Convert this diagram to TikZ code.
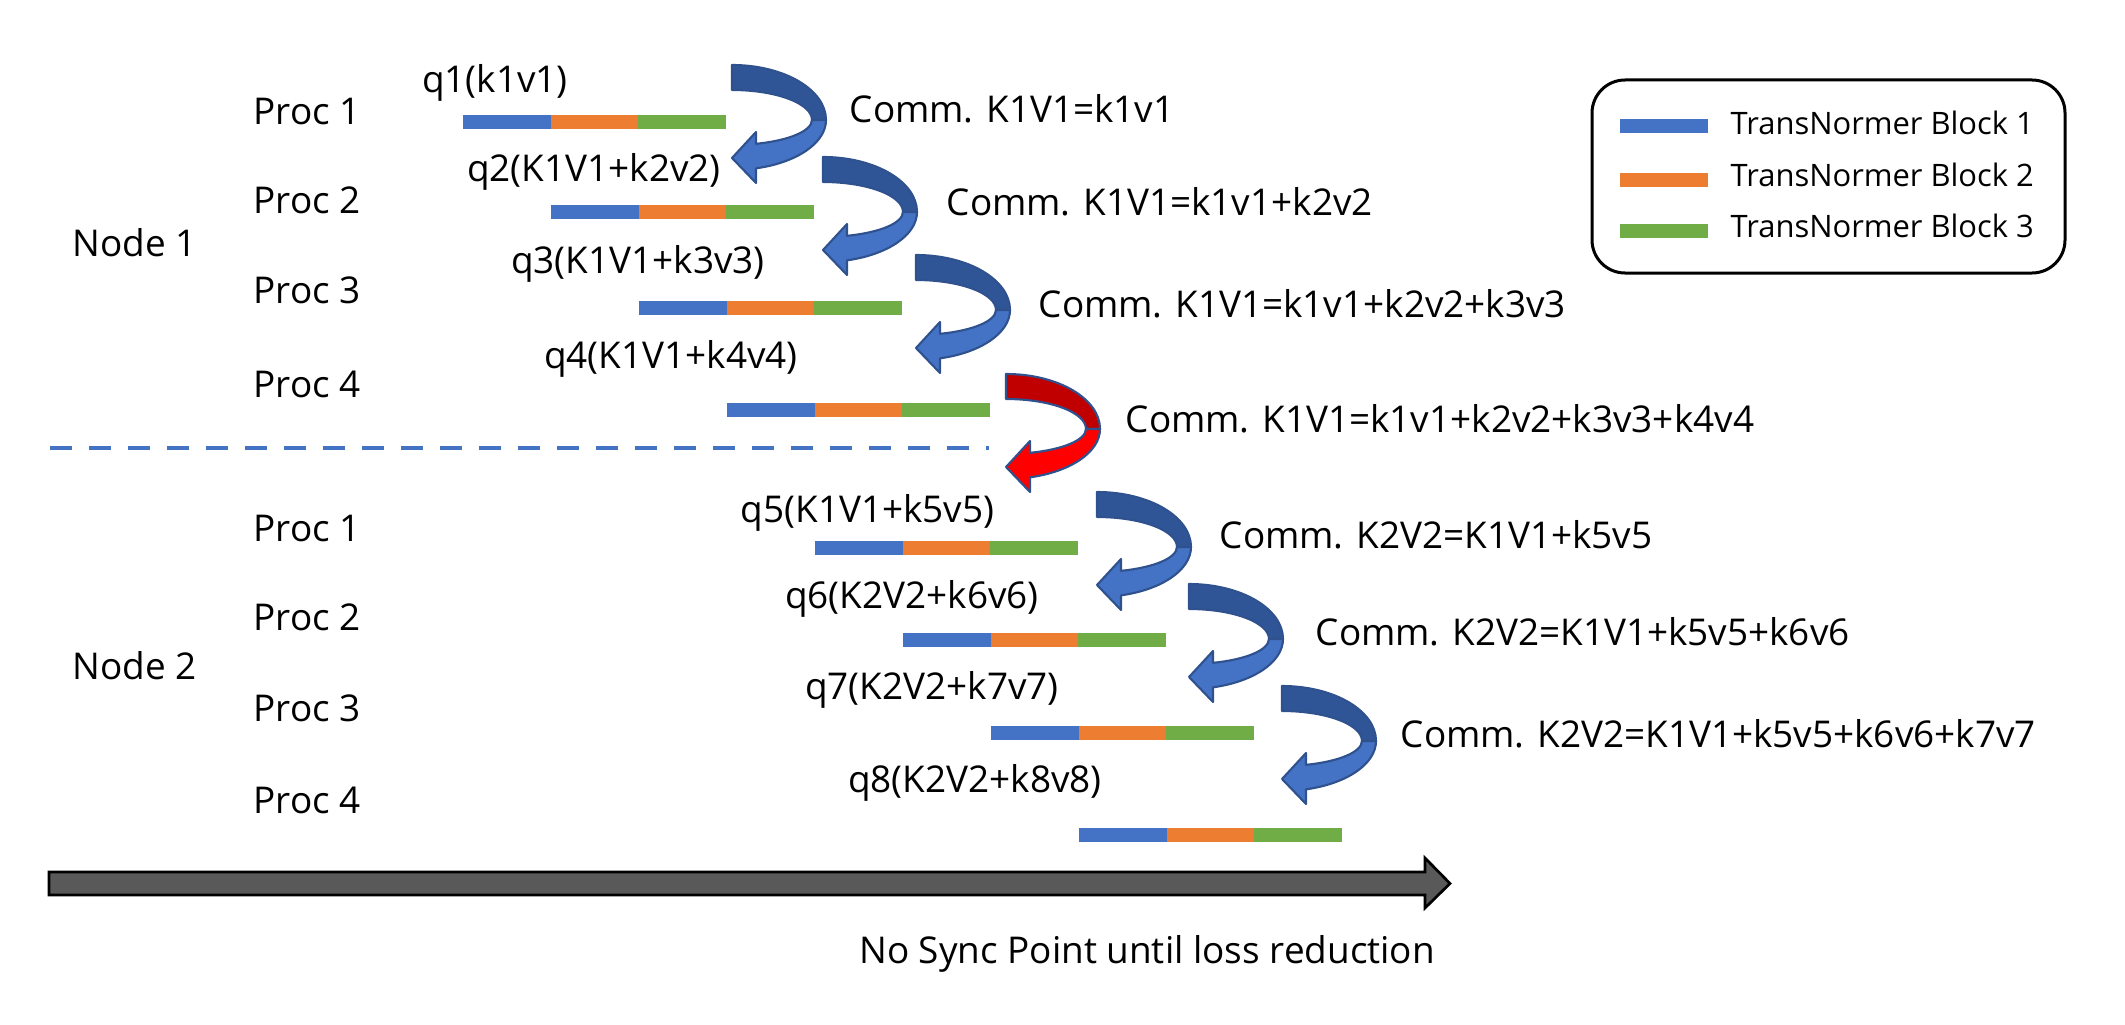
\documentclass[tikz,border=0pt]{standalone}
\usepackage{fontspec}
\setmainfont{Open Sans}
\usepackage{tikz}
\usetikzlibrary{arrows}

\definecolor{blockone}{HTML}{4472C4}
\definecolor{blocktwo}{HTML}{ED7D31}
\definecolor{blockthree}{HTML}{70AD47}
\definecolor{backblue}{HTML}{2F5597}
\definecolor{edgeblue}{HTML}{2F528F}
\definecolor{backred}{HTML}{C00000}
\definecolor{frontred}{HTML}{FF0000}
\definecolor{timegray}{HTML}{595959}

\tikzset{
  lbl/.style={inner sep=0pt, font=\fontsize{10.5}{12}\selectfont},
  legendlbl/.style={inner sep=0pt, anchor=base west, font=\fontsize{8.8}{10}\selectfont},
  arrowline/.style={draw=edgeblue, line width=0.6pt, line join=round},
}

% one row of three TransNormer blocks, #1 = left x, #2 = middle y
\newcommand{\blockbar}[2]{%
  \fill[blockone] (#1,#2+0.07) rectangle ++(0.877,-0.14);
  \fill[blocktwo] (#1+0.877,#2+0.07) rectangle ++(0.877,-0.14);
  \fill[blockthree] (#1+1.754,#2+0.07) rectangle ++(0.877,-0.14);
}

% curved comm arrow, #1 = x of tail, #2 = y of tail top, #3 back colour, #4 front colour
\newcommand{\commarrow}[4]{%
  \begin{scope}[shift={(#1,#2)}]
    \filldraw[arrowline, fill=#3] (0,0) arc[start angle=90, end angle=0, x radius=0.94, y radius=0.55]
      -- (0.80,-0.55) arc[start angle=0, end angle=90, x radius=0.80, y radius=0.30] -- cycle;
    \filldraw[arrowline, fill=#4] (0.94,-0.55) arc[start angle=0, end angle=-75.2, x radius=0.94, y radius=0.50]
      -- (0.24,-1.18) -- (0,-0.93) -- (0.24,-0.67) -- (0.24,-0.788)
      arc[start angle=-72.5, end angle=0, x radius=0.80, y radius=0.25] -- cycle;
  \end{scope}
}

\begin{document}
\begin{tikzpicture}
\useasboundingbox (0,0) rectangle (21.25,-10.25);

% nodes and processes
\node [lbl, anchor=base west] (N1) at (0.72,-2.57) {Node 1};
\node [lbl, anchor=base west] (N2) at (0.72,-6.79) {Node 2};

\node [lbl, anchor=base west] (P11) at (2.53,-1.25) {Proc 1};
\node [lbl, anchor=base west] (P12) at (2.53,-2.13) {Proc 2};
\node [lbl, anchor=base west] (P13) at (2.53,-3.03) {Proc 3};
\node [lbl, anchor=base west] (P14) at (2.53,-3.97) {Proc 4};
\node [lbl, anchor=base west] (P21) at (2.53,-5.41) {Proc 1};
\node [lbl, anchor=base west] (P22) at (2.53,-6.30) {Proc 2};
\node [lbl, anchor=base west] (P23) at (2.53,-7.21) {Proc 3};
\node [lbl, anchor=base west] (P24) at (2.53,-8.13) {Proc 4};

% blocks
\blockbar{4.63}{-1.22}
\blockbar{5.51}{-2.12}
\blockbar{6.39}{-3.075}
\blockbar{7.27}{-4.10}
\blockbar{8.15}{-5.475}
\blockbar{9.03}{-6.40}
\blockbar{9.91}{-7.33}
\blockbar{10.79}{-8.35}

% queries
\node [lbl, anchor=base] (Q1) at (4.95,-0.93) {q1(k1v1)};
\node [lbl, anchor=base] (Q2) at (5.94,-1.82) {q2(K1V1+k2v2)};
\node [lbl, anchor=base] (Q3) at (6.38,-2.73) {q3(K1V1+k3v3)};
\node [lbl, anchor=base] (Q4) at (6.71,-3.68) {q4(K1V1+k4v4)};
\node [lbl, anchor=base] (Q5) at (8.675,-5.22) {q5(K1V1+k5v5)};
\node [lbl, anchor=base] (Q6) at (9.12,-6.08) {q6(K2V2+k6v6)};
\node [lbl, anchor=base] (Q7) at (9.32,-6.99) {q7(K2V2+k7v7)};
\node [lbl, anchor=base] (Q8) at (9.75,-7.92) {q8(K2V2+k8v8)};

% node border
\draw [blockone, line width=0.045cm, dash pattern=on 0.22cm off 0.17cm] (0.50,-4.48) -- (9.89,-4.48);

% communication
\commarrow{7.32}{-0.65}{backblue}{blockone}
\commarrow{8.23}{-1.57}{backblue}{blockone}
\commarrow{9.16}{-2.55}{backblue}{blockone}
\commarrow{10.06}{-3.74}{backred}{frontred}
\commarrow{10.97}{-4.92}{backblue}{blockone}
\commarrow{11.89}{-5.84}{backblue}{blockone}
\commarrow{12.82}{-6.86}{backblue}{blockone}

\node [lbl, anchor=base west] (C1) at (8.49,-1.23) {Comm. K1V1=k1v1};
\node [lbl, anchor=base west] (C2) at (9.46,-2.16) {Comm. K1V1=k1v1+k2v2};
\node [lbl, anchor=base west] (C3) at (10.38,-3.17) {Comm. K1V1=k1v1+k2v2+k3v3};
\node [lbl, anchor=base west] (C4) at (11.25,-4.32) {Comm. K1V1=k1v1+k2v2+k3v3+k4v4};
\node [lbl, anchor=base west] (C5) at (12.19,-5.48) {Comm. K2V2=K1V1+k5v5};
\node [lbl, anchor=base west] (C6) at (13.15,-6.45) {Comm. K2V2=K1V1+k5v5+k6v6};
\node [lbl, anchor=base west] (C7) at (14.00,-7.47) {Comm. K2V2=K1V1+k5v5+k6v6+k7v7};

% legend
\draw [black, line width=0.03cm, rounded corners=0.33cm] (15.92,-0.80) rectangle (20.65,-2.73);
\fill [blockone] (16.20,-1.19) rectangle (17.08,-1.33);
\fill [blocktwo] (16.20,-1.73) rectangle (17.08,-1.87);
\fill [blockthree] (16.20,-2.24) rectangle (17.08,-2.38);
\node [legendlbl] (L1) at (17.30,-1.35) {TransNormer Block 1};
\node [legendlbl] (L2) at (17.30,-1.87) {TransNormer Block 2};
\node [legendlbl] (L3) at (17.30,-2.37) {TransNormer Block 3};

% time line
\filldraw [fill=timegray, draw=black, line width=0.027cm, line join=miter]
  (0.49,-8.72) -- (14.25,-8.72) -- (14.25,-8.58) -- (14.50,-8.835) -- (14.25,-9.08)
  -- (14.25,-8.95) -- (0.49,-8.95) -- cycle;
\node [lbl, anchor=base] (T) at (11.47,-9.63) {No Sync Point until loss reduction};
\end{tikzpicture}
\end{document}
